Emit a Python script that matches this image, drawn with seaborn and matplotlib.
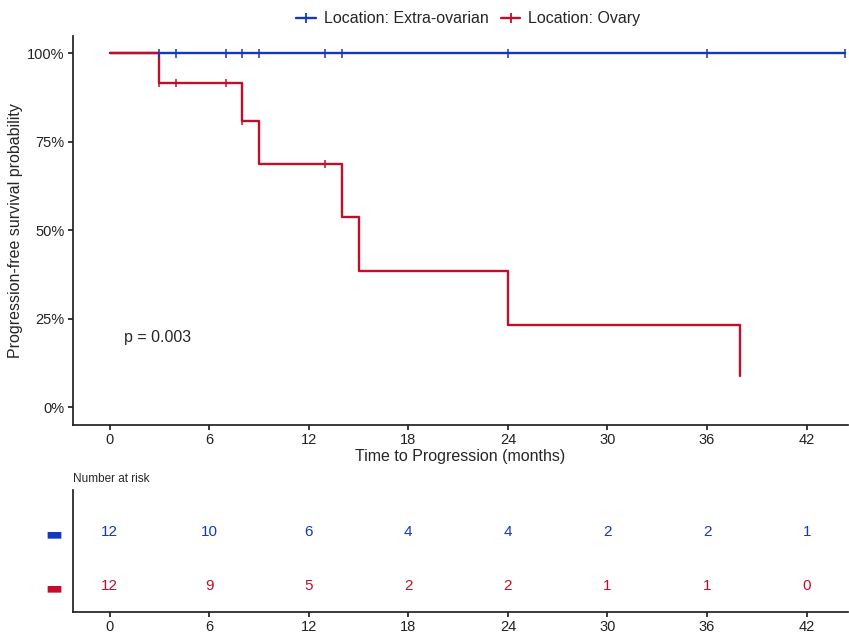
import numpy as np
import pandas as pd
import matplotlib
matplotlib.use("Agg")
import matplotlib.pyplot as plt
from matplotlib.lines import Line2D
import seaborn as sns

# Kaplan-Meier steps
groups = ["Location: Extra-ovarian", "Location: Ovary"]
colors = ["#1338BE", "#C20E2A"]

extra_times = [0, 44.3]
extra_surv = [1.0, 1.0]
extra_censor = [3, 4, 7, 8, 9, 13, 14, 24, 36, 44.3]

ovary_times = [0, 3, 8, 9, 14, 15, 24, 38]
ovary_surv = [1.0, 0.917, 0.81, 0.687, 0.537, 0.384, 0.232, 0.087]
ovary_censor = [3, 4, 7, 8, 13]

risk_times = [0, 6, 12, 18, 24, 30, 36, 42]
risk_extra = [12, 10, 6, 4, 4, 2, 2, 1]
risk_ovary = [12, 9, 5, 2, 2, 1, 1, 0]

sns.set_theme(style="ticks")
plt.rcParams["font.family"] = ["Liberation Sans", "DejaVu Sans"]

curves = pd.concat([
    pd.DataFrame({"time": extra_times, "surv": extra_surv, "group": groups[0]}),
    pd.DataFrame({"time": ovary_times, "surv": ovary_surv, "group": groups[1]}),
])


def surv_at(times, surv, t):
    i = np.searchsorted(times, t, side="right") - 1
    return surv[i]


cens = pd.concat([
    pd.DataFrame({"time": extra_censor,
                  "surv": [surv_at(extra_times, extra_surv, t) for t in extra_censor],
                  "group": groups[0]}),
    pd.DataFrame({"time": ovary_censor,
                  "surv": [surv_at(ovary_times, ovary_surv, t) for t in ovary_censor],
                  "group": groups[1]}),
])

fig = plt.figure(figsize=(8.49, 6.38), dpi=100)
ax = fig.add_axes([0.086, 0.334, 0.913, 0.61])
tab = fig.add_axes([0.086, 0.041, 0.913, 0.191])

pal = dict(zip(groups, colors))
sns.lineplot(data=curves, x="time", y="surv", hue="group", palette=pal,
             drawstyle="steps-post", estimator=None, linewidth=1.7, ax=ax,
             legend=False)
sns.scatterplot(data=cens, x="time", y="surv", hue="group", palette=pal,
                marker="|", s=36, linewidth=1.1, ax=ax, legend=False, zorder=3)

ax.set_xlim(-2.2, 44.5)
ax.set_ylim(-0.05, 1.05)
ax.set_xticks(risk_times)
ax.set_yticks([0, 0.25, 0.5, 0.75, 1.0])
ax.set_yticklabels(["0%", "25%", "50%", "75%", "100%"])
ax.tick_params(labelsize=10.5, colors="#222222", length=3.5, pad=2.5)
ax.set_xlabel("Time to Progression (months)", fontsize=11.5, labelpad=1)
ax.set_ylabel("Progression-free survival probability", fontsize=11.5, labelpad=3)
for s in ["top", "right"]:
    ax.spines[s].set_visible(False)
ax.spines["left"].set_color("#222222")
ax.spines["bottom"].set_color("#222222")
ax.text(0.85, 0.197, "p = 0.003", fontsize=11.5, va="center", ha="left")

handles = [Line2D([], [], color=c, lw=1.7, marker="|", markersize=7, markeredgewidth=1.3)
           for c in colors]
ax.legend(handles, groups, loc="lower center", bbox_to_anchor=(0.51, 1.0),
          ncol=2, frameon=False, fontsize=11.5, handlelength=1.2,
          handletextpad=0.5, columnspacing=0.8, borderaxespad=0.2)

# risk table
for y, counts, c in [(2, risk_extra, colors[0]), (1, risk_ovary, colors[1])]:
    for t, n in zip(risk_times, counts):
        tab.text(t, y, str(n), color=c, ha="center", va="center", fontsize=11)
tab.set_xlim(-2.2, 44.5)
tab.set_ylim(0.52, 2.78)
tab.set_xticks(risk_times)
tab.set_yticks([1, 2])
tab.set_yticklabels(["\u25ac", "\u25ac"], fontsize=13, family=["DejaVu Sans"])
for lab, c in zip(tab.get_yticklabels(), [colors[1], colors[0]]):
    lab.set_color(c)
tab.tick_params(axis="y", length=0, pad=8)
tab.tick_params(axis="x", labelsize=10.5, colors="#222222", length=3.5, pad=2.5)
for s in ["top", "right"]:
    tab.spines[s].set_visible(False)
tab.spines["left"].set_color("#222222")
tab.spines["bottom"].set_color("#222222")
tab.set_title("Number at risk", loc="left", fontsize=8.5, pad=6)
tab.set_xlabel("")
tab.set_ylabel("")

fig.savefig("out.png", dpi=100)
